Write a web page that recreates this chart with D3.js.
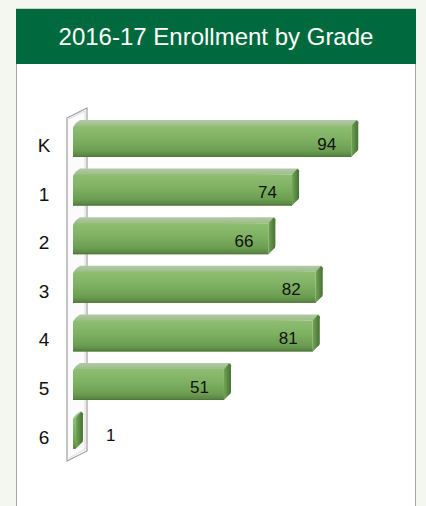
<!DOCTYPE html>
<html><head><meta charset="utf-8">
<script src="https://cdn.jsdelivr.net/npm/d3@7"></script>
<style>html,body{margin:0;padding:0;background:#f4f7ef;}svg{display:block;}</style>
</head><body>
<svg id="c" width="426" height="506"></svg>
<script>
const title = "2016-17 Enrollment by Grade";
const grades = ["K", "1", "2", "3", "4", "5", "6"];
const enrollment = [94, 74, 66, 82, 81, 51, 1];
const xDomain = [0, 100];

const svg = d3.select("#c");
const defs = svg.append("defs");
const g1 = defs.append("linearGradient").attr("id","front").attr("x1",0).attr("y1",0).attr("x2",0).attr("y2",1);
[[0,"#8fbd72"],[0.4,"#80b263"],[0.8,"#6c9e52"],[1,"#557f3f"]].forEach(s=>g1.append("stop").attr("offset",s[0]).attr("stop-color",s[1]));
const g2 = defs.append("linearGradient").attr("id","topf").attr("x1",0).attr("y1",0).attr("x2",0).attr("y2",1);
[[0,"#b3c9a6"],[1,"#90b879"]].forEach(s=>g2.append("stop").attr("offset",s[0]).attr("stop-color",s[1]));
const g3 = defs.append("linearGradient").attr("id","endf").attr("x1",0).attr("y1",0).attr("x2",1).attr("y2",0);
[[0,"#72a257"],[1,"#44702f"]].forEach(s=>g3.append("stop").attr("offset",s[0]).attr("stop-color",s[1]));

// panel
svg.append("rect").attr("x",16.5).attr("y",9).attr("width",399).attr("height",510)
  .attr("fill","#fff").attr("stroke","#a8a8a8").attr("stroke-width",1);
svg.append("rect").attr("x",16).attr("y",9).attr("width",400).attr("height",55).attr("fill","#006a3e");
svg.append("text").attr("x",216).attr("y",45).attr("text-anchor","middle")
  .attr("fill","#fff").attr("font-family","Liberation Sans, Arial, sans-serif").attr("font-size",24)
  .text(title);

const x = d3.scaleLinear().domain(xDomain).range([73, 369]);
const y = d3.scalePoint().domain(grades).range([138.5, 430.1]);

// wall
const wall = [[67,118],[87,108],[87,451],[67,461]];
svg.append("polygon").attr("points",wall.map(p=>p.join(",")).join(" "))
  .attr("fill","#fbfbfb").attr("stroke","#a0a0a0").attr("stroke-width",1.2);
svg.append("polyline").attr("points","69,119 85,111 85,449 69,458")
  .attr("fill","none").attr("stroke","#dcdcdc").attr("stroke-width",1);

const H = 37, dx = 7, dy = 6;
const bars = svg.append("g");
grades.forEach((gr,i)=>{
  const v = enrollment[i];
  const cy = y(gr);
  const top = cy - H/2, x0 = x(0), x1 = x(v);
  const fTop = top + dy, fBot = top + H;
  const gg = bars.append("g");
  // top face
  gg.append("path").attr("d",`M${x0},${fTop+3} Q${x0},${fTop} ${x0+3},${top+3} L${x0+dx},${top} L${x1+dx},${top} L${x1},${fTop} Z`)
    .attr("fill","url(#topf)");
  // end face
  gg.append("path").attr("d",`M${x1},${fTop} L${x1+dx-2},${top+0.5} Q${x1+dx+1},${top+1} ${x1+dx},${top+4} L${x1+dx},${fBot-dy-2} Q${x1+dx},${fBot-dy} ${x1+dx-2},${fBot-dy+1} L${x1},${fBot} Z`)
    .attr("fill","url(#endf)");
  // front face
  gg.append("path").attr("d",`M${x0},${fTop+3} Q${x0},${fTop} ${x0+3},${fTop} L${x1},${fTop} L${x1},${fBot} L${x0},${fBot} Z`)
    .attr("fill","url(#front)");
  gg.append("line").attr("x1",x0).attr("x2",x1).attr("y1",fBot-0.5).attr("y2",fBot-0.5)
    .attr("stroke","#4f7a3b").attr("stroke-width",1);
  // value label
  const inside = v >= 10;
  svg.append("text")
    .attr("x", inside ? x1 - 15 : x1 + dx + 23)
    .attr("y", cy + 11)
    .attr("text-anchor", inside ? "end" : "start")
    .attr("font-family","Liberation Sans, Arial, sans-serif").attr("font-size",17).attr("fill","#111")
    .text(v);
  // category label
  svg.append("text").attr("x",44).attr("y",cy+13.5).attr("text-anchor","middle")
    .attr("font-family","Liberation Sans, Arial, sans-serif").attr("font-size",19).attr("fill","#111")
    .text(gr);
});
</script>
</body></html>
